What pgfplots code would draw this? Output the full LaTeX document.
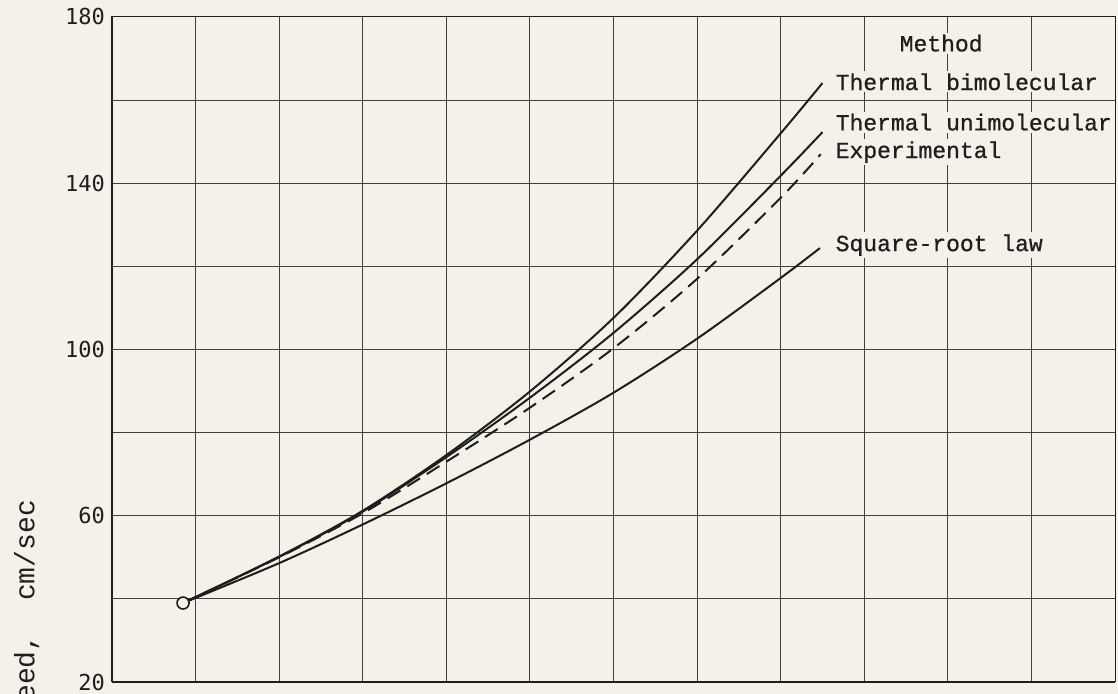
\documentclass[border=0pt]{standalone}
\usepackage{pgfplots}
\pgfplotsset{compat=1.18}
\usepackage{fontspec}
\setmainfont{Liberation Mono}
\newfontfamily\tw{Liberation Mono}[FakeBold=0.8]
\newfontfamily\lt{DejaVu Sans Mono}
\definecolor{paper}{RGB}{244,241,232}
\definecolor{ink}{RGB}{30,30,30}
\tikzset{lbl/.style={font=\tw\fontsize{11.5}{13}\selectfont, text=ink, fill=paper, inner sep=1pt}}
\begin{document}
\begin{tikzpicture}
\fill[paper] (-56pt,-6pt) rectangle (503pt,341pt);
\begin{axis}[
 at={(0,0)}, anchor=south west,
 scale only axis, width=501.5pt, height=332.5pt,
 xmin=0, xmax=12, ymin=20, ymax=180,
 xtick={0,...,12}, xticklabels={},
 ytick={20,60,100,140,180},
 minor ytick={40,80,120,160},
 grid=both,
 grid style={line width=0.5pt, ink!85},
 minor grid style={line width=0.5pt, ink!85},
 major tick length=0pt, minor tick length=0pt,
 axis line style={line width=0.5pt, ink},
 yticklabel style={font=\lt\fontsize{11}{12}\selectfont, text=ink, anchor=east},
 /pgf/number format/assume math mode=true,
 clip=false,
]
\addplot[ink, line width=1pt, smooth] coordinates {
 (0.85,39) (2,50.2) (3,61.2) (4,74.6) (5,89.9) (6,107.6) (7,128.6) (8,152) (8.5,164.1)};
\addplot[ink, line width=1pt, smooth] coordinates {
 (0.85,39) (2,50.1) (3,61) (4,74.1) (5,88.4) (6,104) (7,121.7) (8,141.8) (8.5,152.3)};
\addplot[ink, line width=1pt, smooth, dash pattern=on 7.5pt off 4pt] coordinates {
 (0.85,39) (2,50) (3,60.6) (4,73) (5,86) (6,100.3) (7,117) (8,136.5) (8.48,147)};
\addplot[ink, line width=1pt, smooth] coordinates {
 (0.85,39) (2,48.6) (3,57.9) (4,67.8) (5,78.3) (6,89.6) (7,102.6) (8,117.2) (8.47,124.4)};
\addplot[ink, line width=0.8pt, only marks, mark=*, mark size=3pt, mark options={fill=paper, draw=ink}] coordinates {(0.85,39)};
\coordinate (lm) at (axis cs:9.92,173.7);
\coordinate (lb) at (axis cs:8.63,164.4);
\coordinate (lu) at (axis cs:8.63,154.7);
\coordinate (le) at (axis cs:8.63,147.5);
\coordinate (ls) at (axis cs:8.63,125.1);
\node[rotate=90, anchor=east, font=\fontsize{14}{16}\selectfont, text=ink] at (rel axis cs:-0.0847,0.2842) {Flame speed,\ \ cm/sec};
\draw[ink, line width=1.3pt] (rel axis cs:0,0) -- (rel axis cs:0,1);
\draw[ink, line width=0.9pt] (rel axis cs:0,0) -- (rel axis cs:1,0);
\end{axis}
\node[lbl] at (lm) {Method};
\node[lbl, anchor=west] at (lb) {Thermal bimolecular};
\node[lbl, anchor=west] at (lu) {Thermal unimolecular};
\node[lbl, anchor=west] at (le) {Experimental};
\node[lbl, anchor=west] at (ls) {Square-root law};
\pgfresetboundingbox
\useasboundingbox (-56pt,-6pt) rectangle (503pt,341pt);
\end{tikzpicture}
\end{document}
